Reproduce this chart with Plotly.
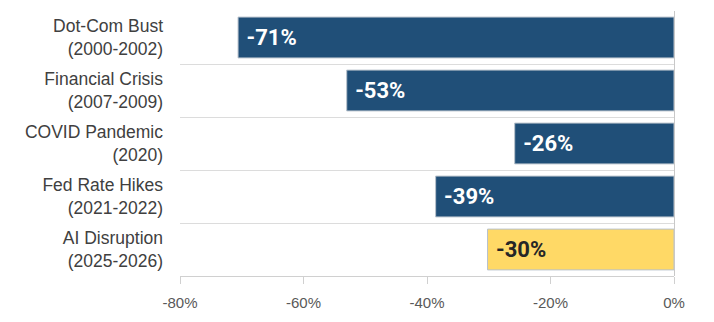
import plotly.graph_objects as go

categories = [
    "Dot-Com Bust<br>(2000-2002)",
    "Financial Crisis<br>(2007-2009)",
    "COVID Pandemic<br>(2020)",
    "Fed Rate Hikes<br>(2021-2022)",
    "AI Disruption<br>(2025-2026)",
]
drawdowns = [-70.6, -53.0, -25.8, -38.6, -30.2]
bar_colors = ["#204f78", "#204f78", "#204f78", "#204f78", "#ffd966"]
text_colors = ["#ffffff", "#ffffff", "#ffffff", "#ffffff", "#262626"]
x_ticks = [-80, -60, -40, -20, 0]
x_tick_labels = ["-80%", "-60%", "-40%", "-20%", "0%"]

fig = go.Figure()
fig.add_trace(go.Bar(
    x=drawdowns,
    y=categories,
    orientation="h",
    width=0.77,
    marker=dict(color=bar_colors, line=dict(color="#b8c2cc", width=1)),
    texttemplate="\u00a0%{x:.0f}%",
    textposition="inside",
    insidetextanchor="end",
    textangle=0,
    textfont=dict(family="Roboto, Arial, sans-serif", size=22, color=text_colors, weight="bold"),
    cliponaxis=False,
    hoverinfo="skip",
))

fig.update_layout(
    width=714,
    height=322,
    margin=dict(l=180, r=40, t=11, b=43),
    paper_bgcolor="white",
    plot_bgcolor="white",
    showlegend=False,
    uniformtext=dict(mode=False),
    xaxis=dict(
        range=[-80, 0],
        tickvals=x_ticks,
        ticktext=x_tick_labels,
        showgrid=False,
        zeroline=True,
        zerolinecolor="#c8c8c8",
        zerolinewidth=1,
        showline=True,
        linecolor="#d0d0d0",
        linewidth=1,
        ticks="outside",
        ticklen=7,
        tickcolor="#d0d0d0",
        ticklabelstandoff=6,
        tickfont=dict(family="Liberation Sans, Arial, sans-serif", size=15, color="#595959"),
        fixedrange=True,
    ),
    yaxis=dict(
        categoryorder="array",
        categoryarray=categories,
        autorange="reversed",
        tickson="boundaries",
        showgrid=True,
        gridcolor="#dcdcdc",
        gridwidth=1,
        ticks="",
        ticklabelstandoff=16,
        tickfont=dict(family="Liberation Sans, Arial, sans-serif", size=17.5, color="#404040"),
        fixedrange=True,
    ),
)

fig.write_html("out.html")
